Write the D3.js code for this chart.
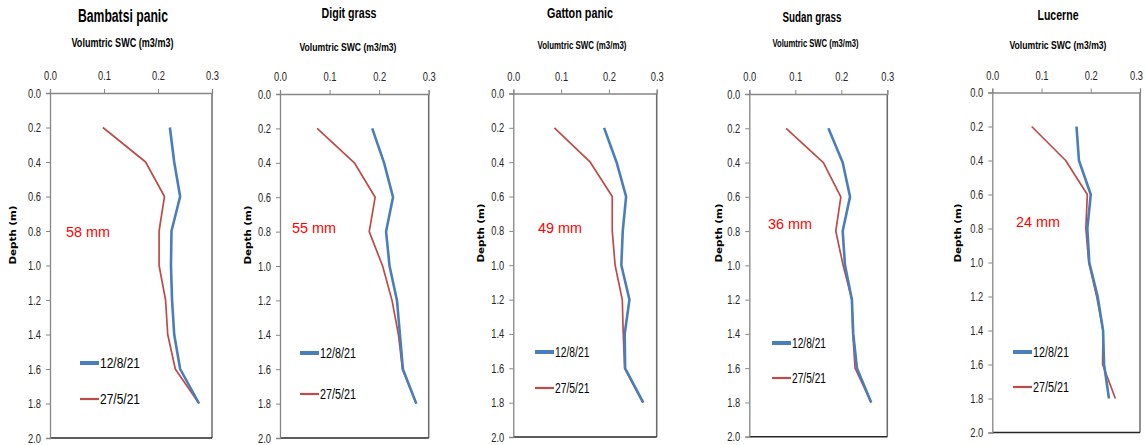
<!DOCTYPE html>
<html>
<head>
<meta charset="utf-8">
<script src="https://cdn.jsdelivr.net/npm/d3@7"></script>
<style>
  html, body { margin: 0; padding: 0; background: #ffffff; }
  svg { display: block; }
  .tick text { font-family: "Liberation Sans", Arial, sans-serif; font-size: 12.5px; fill: #262626; }
</style>
</head>
<body>
<svg id="chart" width="1146" height="445"></svg>
<script>
// Crop names, one soil-water profile panel each
const crops = ["Bambatsi panic", "Digit grass", "Gatton panic", "Sudan grass", "Lucerne"];

// Sampling depths (m)
const depths = [0.2, 0.4, 0.6, 0.8, 1.0, 1.2, 1.4, 1.6, 1.8];

// Volumetric soil water content (m3/m3) on 12/8/21, per crop
const swcAug = [
  [0.222, 0.230, 0.241, 0.225, 0.224, 0.226, 0.230, 0.241, 0.276],
  [0.186, 0.210, 0.228, 0.214, 0.221, 0.236, 0.242, 0.248, 0.275],
  [0.190, 0.216, 0.236, 0.229, 0.226, 0.243, 0.233, 0.234, 0.272],
  [0.172, 0.203, 0.219, 0.203, 0.208, 0.223, 0.226, 0.234, 0.265],
  [0.171, 0.176, 0.200, 0.193, 0.197, 0.214, 0.225, 0.227, 0.237]
];

// Volumetric soil water content (m3/m3) on 27/5/21, per crop
const swcMay = [
  [0.098, 0.177, 0.212, 0.202, 0.202, 0.214, 0.218, 0.232, 0.276],
  [0.075, 0.150, 0.192, 0.180, 0.207, 0.226, 0.239, 0.247, 0.275],
  [0.086, 0.161, 0.207, 0.207, 0.213, 0.228, 0.230, 0.233, 0.271],
  [0.080, 0.161, 0.199, 0.188, 0.204, 0.223, 0.225, 0.230, 0.265],
  [0.080, 0.149, 0.193, 0.190, 0.196, 0.212, 0.225, 0.224, 0.250]
];

// Soil water extracted between the two dates (mm)
const waterUse = [58, 55, 49, 36, 24];

const seriesNames = ["12/8/21", "27/5/21"];
const xTicks = [0, 0.1, 0.2, 0.3];
const yTicks = [0, 0.2, 0.4, 0.6, 0.8, 1.0, 1.2, 1.4, 1.6, 1.8, 2.0];
const xTitle = "Volumtric SWC (m3/m3)";
const yTitle = "Depth (m)";

// Panel geometry: plot box, title/subtitle anchors and widths, label anchors
const frames = [
  { l: 50,  r: 212,  t: 93,   b: 438,   tx: 123,  ty: 16, tw: 90, tf: 17.5, sx: 122.5, sy: 42, sw: 102, sf: 13,   dx: 13,  dy: 235, mx: 66,   my: 231, gx: 80,   gy1: 363, gy2: 399, lw: 40 },
  { l: 280, r: 428.7, t: 94,  b: 438,   tx: 349,  ty: 12, tw: 55, tf: 15.5, sx: 348,   sy: 47, sw: 97,  sf: 10.5, dx: 248, dy: 235, mx: 292,  my: 227, gx: 300,  gy1: 353, gy2: 394, lw: 36 },
  { l: 513.3, r: 656.7, t: 93.5, b: 437, tx: 580, ty: 12, tw: 66, tf: 15.5, sx: 582,   sy: 45, sw: 89,  sf: 10.5, dx: 481, dy: 233, mx: 538,  my: 227, gx: 535,  gy1: 352, gy2: 388, lw: 34.5 },
  { l: 749.3, r: 887.3, t: 94, b: 436.7, tx: 812,  ty: 16, tw: 59, tf: 15.5, sx: 815.5, sy: 43, sw: 86,  sf: 10.5, dx: 719, dy: 233, mx: 768,  my: 223, gx: 772,  gy1: 343, gy2: 378, lw: 34 },
  { l: 992.3, r: 1140, t: 92.5, b: 432.5, tx: 1058, ty: 14, tw: 41, tf: 15.5, sx: 1058,  sy: 45, sw: 97,  sf: 10.5, dx: 958, dy: 233, mx: 1016, my: 221, gx: 1013, gy1: 352, gy2: 387, lw: 36 }
];

const colors = ["#4a7ebb", "#be4b48"];
const lineWidths = [2.6, 1.7];
const legendWidths = [4, 2.2];
const sans = '"Liberation Sans", Arial, sans-serif';
const width = 1146;

const svg = d3.select("#chart");

crops.forEach((crop, i) => {
  const f = frames[i];
  const x = d3.scaleLinear().domain([0, 0.3]).range([f.l, f.r]);
  const y = d3.scaleLinear().domain([0, 2]).range([f.t, f.b]);
  const g = svg.append("g");

  // plot-area border (right and bottom)
  g.append("line").attr("x1", f.r).attr("x2", f.r).attr("y1", f.t).attr("y2", f.b)
    .attr("stroke", "#6b6b6b").attr("stroke-width", 1.5);
  g.append("line").attr("x1", f.l).attr("x2", f.r).attr("y1", f.b).attr("y2", f.b)
    .attr("stroke", "#262626").attr("stroke-width", 1.5);

  // value axis along the top
  const xa = g.append("g").attr("transform", `translate(0,${f.t})`)
    .call(d3.axisTop(x).tickValues(xTicks).tickFormat(d3.format(".1f")).tickSize(4).tickPadding(9));
  // depth axis along the left
  const ya = g.append("g").attr("transform", `translate(${f.l},0)`)
    .call(d3.axisLeft(y).tickValues(yTicks).tickFormat(d3.format(".1f")).tickSize(4).tickPadding(5));
  [xa, ya].forEach(a => {
    a.select(".domain").attr("stroke", "#868686").attr("stroke-width", 1.3);
    a.selectAll(".tick line").attr("stroke", "#868686");
    a.selectAll(".tick text").attr("textLength", 13).attr("lengthAdjust", "spacingAndGlyphs");
  });
  // keep the last top label inside the page
  xa.selectAll(".tick text").attr("dx", d => (x(d) + 10 > width ? width - 10 - x(d) : 0));

  // titles
  g.append("text").attr("x", f.tx).attr("y", f.ty).attr("text-anchor", "middle")
    .attr("dominant-baseline", "central")
    .attr("textLength", f.tw).attr("lengthAdjust", "spacingAndGlyphs")
    .style("font-family", sans).style("font-weight", "bold").style("font-size", f.tf + "px")
    .attr("fill", "#000").text(crop);
  g.append("text").attr("x", f.sx).attr("y", f.sy).attr("text-anchor", "middle")
    .attr("dominant-baseline", "central")
    .attr("textLength", f.sw).attr("lengthAdjust", "spacingAndGlyphs")
    .style("font-family", sans).style("font-weight", "bold").style("font-size", f.sf + "px")
    .attr("fill", "#000").text(xTitle);
  g.append("text").attr("transform", `translate(${f.dx},${f.dy}) rotate(-90)`)
    .attr("text-anchor", "middle").attr("dominant-baseline", "central")
    .attr("textLength", 59).attr("lengthAdjust", "spacingAndGlyphs")
    .style("font-family", '"DejaVu Sans", Verdana, sans-serif').style("font-weight", "bold").style("font-size", "9px")
    .attr("fill", "#000").text(yTitle);

  // profiles
  const line = d3.line().x(d => x(d[1])).y(d => y(d[0]));
  [swcMay[i], swcAug[i]].forEach((vals, k) => {
    const s = k === 0 ? 1 : 0;
    g.append("path")
      .datum(depths.map((d, j) => [d, vals[j]]))
      .attr("d", line).attr("fill", "none")
      .attr("stroke", colors[s]).attr("stroke-width", lineWidths[s])
      .attr("stroke-linejoin", "round");
  });

  // water-use annotation
  g.append("text").attr("x", f.mx).attr("y", f.my).attr("dominant-baseline", "central")
    .attr("textLength", 44).attr("lengthAdjust", "spacingAndGlyphs")
    .style("font-family", sans).style("font-size", "15px")
    .attr("fill", "#ff0000").text(`${waterUse[i]} mm`);

  // legend
  [f.gy1, f.gy2].forEach((ly, s) => {
    g.append("line").attr("x1", f.gx).attr("x2", f.gx + 19).attr("y1", ly).attr("y2", ly)
      .attr("stroke", colors[s]).attr("stroke-width", legendWidths[s]);
    g.append("text").attr("x", f.gx + 20).attr("y", ly).attr("dominant-baseline", "central")
      .attr("textLength", f.lw).attr("lengthAdjust", "spacingAndGlyphs")
      .style("font-family", sans).style("font-size", "14px")
      .attr("fill", "#000").text(seriesNames[s]);
  });
});
</script>
</body>
</html>
